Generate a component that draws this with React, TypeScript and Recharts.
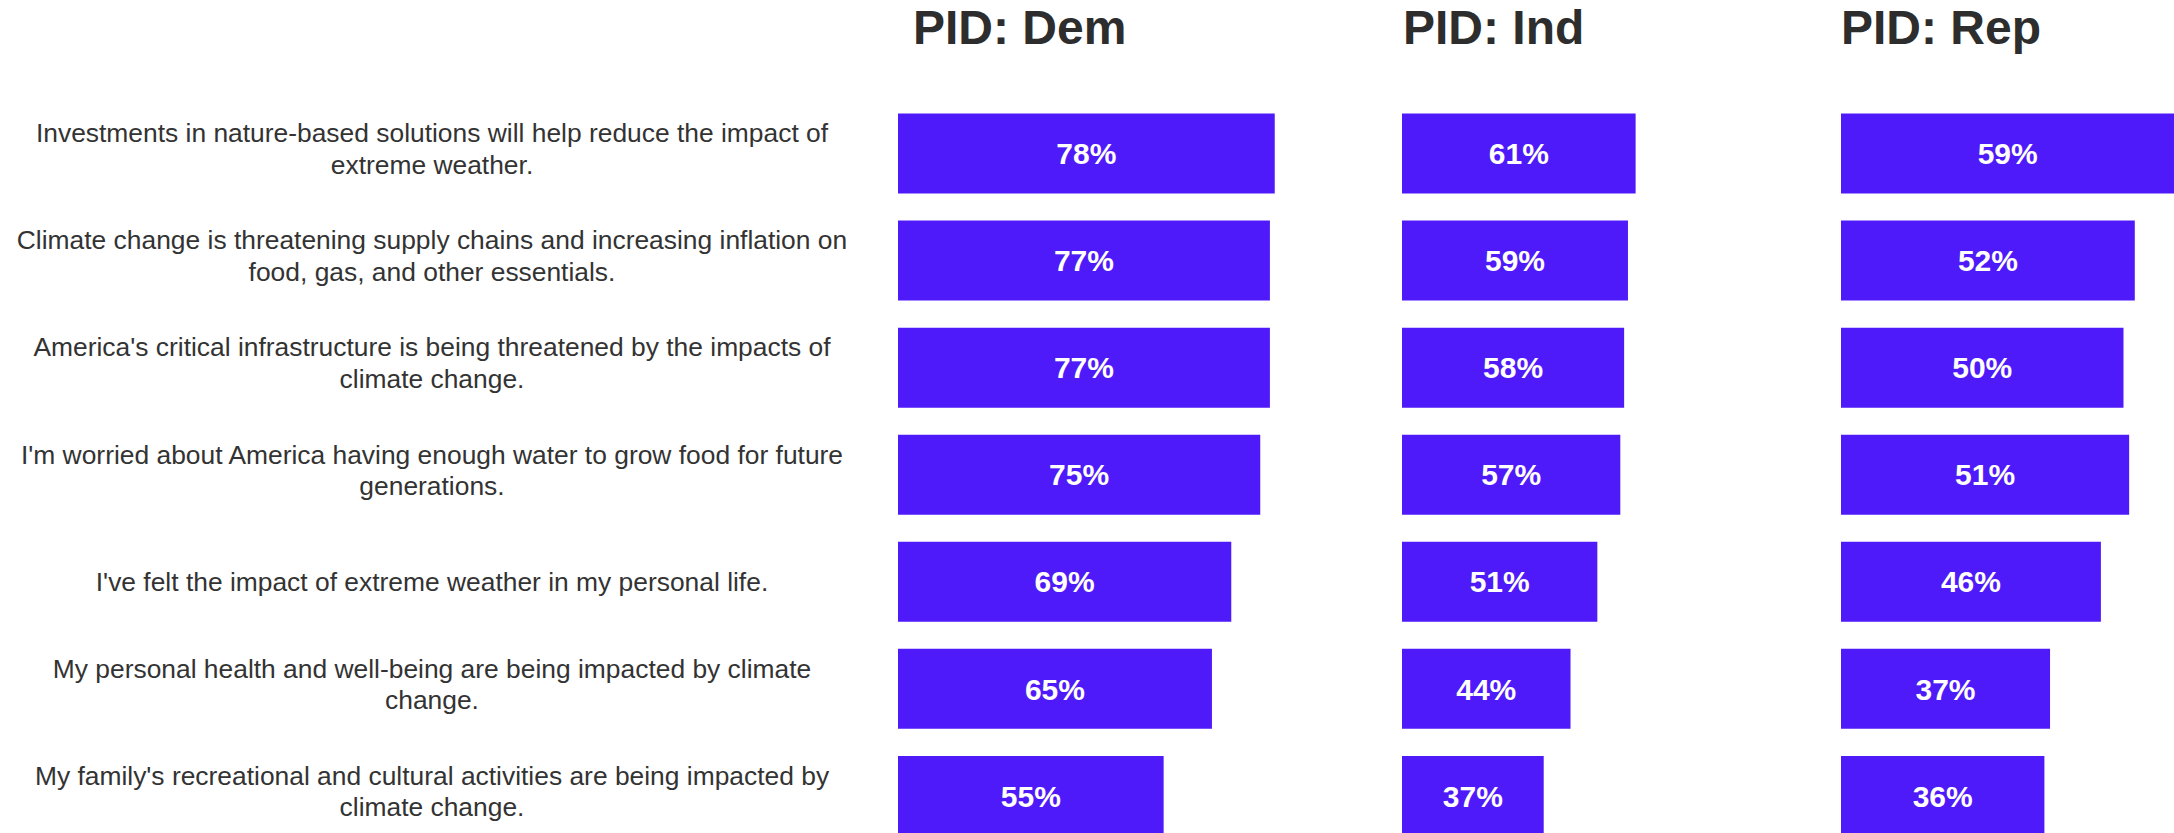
import React from "react";
import { BarChart, Bar, XAxis, YAxis, LabelList } from "recharts";

const statements = [
  "Investments in nature-based solutions will help reduce the impact of extreme weather.",
  "Climate change is threatening supply chains and increasing inflation on food, gas, and other essentials.",
  "America's critical infrastructure is being threatened by the impacts of climate change.",
  "I'm worried about America having enough water to grow food for future generations.",
  "I've felt the impact of extreme weather in my personal life.",
  "My personal health and well-being are being impacted by climate change.",
  "My family's recreational and cultural activities are being impacted by climate change.",
];

const demValues = [78, 77, 77, 75, 69, 65, 55];
const indValues = [61, 59, 58, 57, 51, 44, 37];
const repValues = [59, 52, 50, 51, 46, 37, 36];

const panelTitles = ["PID: Dem", "PID: Ind", "PID: Rep"];
const panelKeys = ["dem", "ind", "rep"];

const rows = statements.map((s, i) => ({
  statement: s,
  dem: demValues[i],
  ind: indValues[i],
  rep: repValues[i],
}));

const FONT = "'Liberation Sans', Arial, Helvetica, sans-serif";
const BAR_COLOR = "#4F1AF9";
const CHART_H = 849;
const MARGIN_TOP = 99.5;
const LABEL_FONT = 26.4;
const LABEL_CENTER_X = 432;
const LABEL_MAX_W = 849;
const LINE_H = 31.3;

let measureCtx: CanvasRenderingContext2D | null = null;
function measure(t: string): number {
  if (!measureCtx) {
    const c = document.createElement("canvas");
    measureCtx = c.getContext("2d");
  }
  if (!measureCtx) return t.length * LABEL_FONT * 0.5;
  measureCtx.font = `${LABEL_FONT}px 'Liberation Sans', Arial, sans-serif`;
  return measureCtx.measureText(t).width;
}

function wrap(text: string, max: number): string[] {
  const words = text.split(" ");
  const lines: string[] = [];
  let cur = "";
  for (const w of words) {
    const test = cur ? cur + " " + w : w;
    if (cur && measure(test) > max) {
      lines.push(cur);
      cur = w;
    } else {
      cur = test;
    }
  }
  if (cur) lines.push(cur);
  return lines;
}

const WrapTick = (props: any) => {
  const { y, payload } = props;
  const lines = wrap(String(payload.value), LABEL_MAX_W);
  const n = lines.length;
  const shift = n > 1 ? -4.5 : 0;
  return (
    <g>
      {lines.map((ln, i) => (
        <text
          key={i}
          x={LABEL_CENTER_X}
          y={y + 9.4 + (i - (n - 1) / 2) * LINE_H + shift}
          textAnchor="middle"
          fontSize={LABEL_FONT}
          fontFamily={FONT}
          fill="#333333"
        >
          {ln}
        </text>
      ))}
    </g>
  );
};

const panels = [
  { left: 0, axisW: 898, plotW: 483, titleX: 913 },
  { left: 1402, axisW: 0, plotW: 383, titleX: 1403 },
  { left: 1841, axisW: 0, plotW: 565, titleX: 1841 },
];

export default function App() {
  return (
    <div
      style={{
        position: "absolute",
        left: 0,
        top: 0,
        width: 2174,
        height: 833,
        overflow: "hidden",
        background: "#ffffff",
      }}
    >
      {panels.map((p, idx) => (
        <div key={idx} style={{ position: "absolute", left: p.left, top: 0 }}>
          <BarChart
            layout="vertical"
            data={rows}
            width={p.axisW + p.plotW}
            height={CHART_H}
            margin={{ top: MARGIN_TOP, right: 0, bottom: 0, left: 0 }}
            barSize={80}
          >
            <XAxis type="number" domain={[0, 100]} hide />
            <YAxis
              type="category"
              dataKey="statement"
              width={p.axisW}
              hide={idx !== 0}
              axisLine={false}
              tickLine={false}
              tick={<WrapTick />}
              interval={0}
            />
            <Bar dataKey={panelKeys[idx]} fill={BAR_COLOR} isAnimationActive={false}>
              <LabelList
                dataKey={panelKeys[idx]}
                position="center"
                formatter={(v: any) => `${v}%`}
                fill="#ffffff"
                fontSize={30}
                fontWeight={700}
                fontFamily={FONT}
              />
            </Bar>
          </BarChart>
        </div>
      ))}
      <svg
        width={2174}
        height={833}
        style={{ position: "absolute", left: 0, top: 0, pointerEvents: "none" }}
      >
        {panels.map((p, idx) => (
          <text
            key={idx}
            x={p.titleX}
            y={44}
            fontSize={48}
            fontWeight={700}
            fontFamily={FONT}
            fill="#2d2d2d"
          >
            {panelTitles[idx]}
          </text>
        ))}
      </svg>
    </div>
  );
}
